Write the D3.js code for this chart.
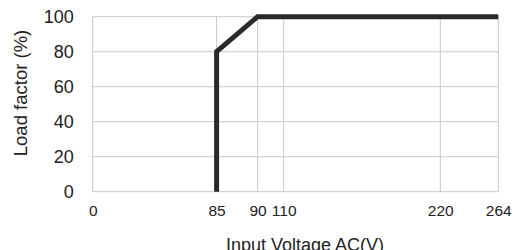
<!DOCTYPE html>
<html>
<head>
<meta charset="utf-8">
<script src="https://cdn.jsdelivr.net/npm/d3@7"></script>
<style>
  body { margin: 0; background: #fff; }
  text { font-family: "Liberation Sans", Arial, sans-serif; fill: #222; }
</style>
</head>
<body>
<script>
// derating curve: load factor vs input voltage
let voltage = [85, 85, 90, 264];
let loadFactor = [0, 80, 100, 100];

let xTicks = [0, 85, 90, 110, 220, 264];
let yTicks = [0, 20, 40, 60, 80, 100];

let width = 517;
let height = 250;

// x axis is not linear in the original, each tick gets its own spot
let x = d3
  .scaleLinear()
  .domain(xTicks)
  .range([92.7, 216.6, 257.6, 283.7, 440.3, 498.3]);

let y = d3
  .scaleLinear()
  .domain([0, 100])
  .range([191.7, 16.7]);

let svg = d3
  .select("body")
  .append("svg")
  .attr("width", width)
  .attr("height", height);

// grid
let grid = svg.append("g").attr("stroke", "#c5c9cf").attr("stroke-width", 1);

grid
  .selectAll("line.h")
  .data(yTicks)
  .enter()
  .append("line")
  .attr("class", "h")
  .attr("x1", x(0))
  .attr("x2", x(264))
  .attr("y1", d => y(d))
  .attr("y2", d => y(d));

grid
  .selectAll("line.v")
  .data(xTicks)
  .enter()
  .append("line")
  .attr("class", "v")
  .attr("x1", d => x(d))
  .attr("x2", d => x(d))
  .attr("y1", y(0))
  .attr("y2", y(100));

// the curve
let line = d3
  .line()
  .x(d => x(d[0]))
  .y(d => y(d[1]));

svg
  .append("path")
  .datum(voltage.map((v, i) => [v, loadFactor[i]]))
  .attr("d", line)
  .attr("fill", "none")
  .attr("stroke", "#2a2a2a")
  .attr("stroke-width", 5)
  .attr("stroke-linejoin", "miter");

// axes, lines removed, only the labels kept
let xAxis = g =>
  g
    .attr("transform", `translate(0,${y(0)})`)
    .call(d3.axisBottom(x).tickValues(xTicks).tickSize(0).tickPadding(13.5))
    .call(g => g.select(".domain").remove())
    .call(g => g.selectAll("text").attr("font-size", 15.5).attr("font-family", null));

let yAxis = g =>
  g
    .attr("transform", `translate(${x(0)},0)`)
    .call(d3.axisLeft(y).tickValues(yTicks).tickSize(0).tickPadding(19))
    .call(g => g.select(".domain").remove())
    .call(g => g.selectAll("text").attr("font-size", 18).attr("font-family", null));

svg.append("g").call(xAxis);
svg.append("g").call(yAxis);

svg.selectAll(".tick text").style("fill", "#222");

// titles
svg
  .append("text")
  .attr("x", 305)
  .attr("y", 251)
  .attr("text-anchor", "middle")
  .attr("font-size", 18)
  .text("Input Voltage AC(V)");

svg
  .append("text")
  .attr("transform", "translate(27,93) rotate(-90)")
  .attr("text-anchor", "middle")
  .attr("font-size", 18.5)
  .text("Load factor (%)");
</script>
</body>
</html>
